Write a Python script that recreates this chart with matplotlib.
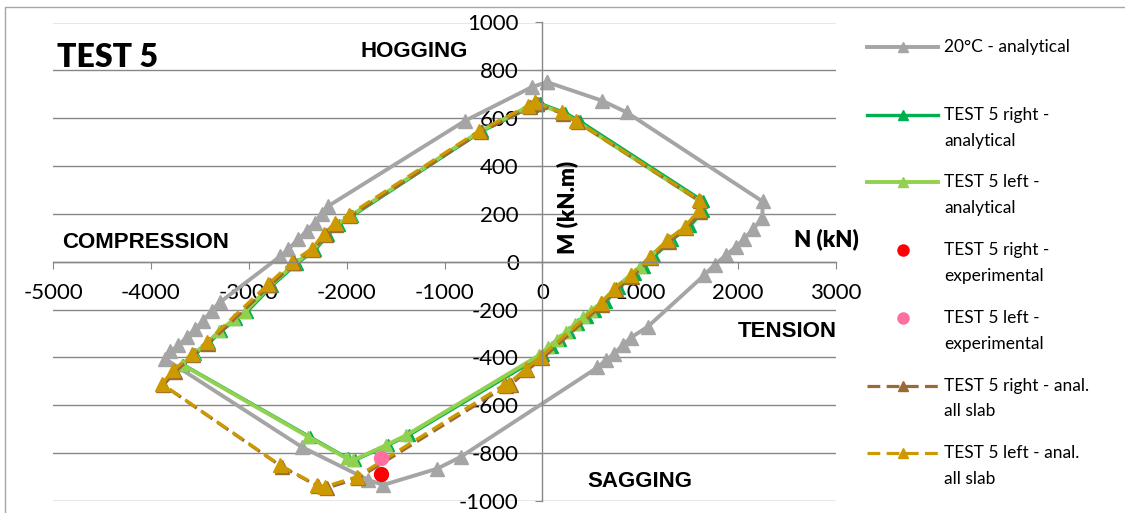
import matplotlib.pyplot as plt
from matplotlib.patches import Rectangle

plt.rcParams['font.family'] = ['Lato', 'DejaVu Sans']
plt.rcParams['axes.unicode_minus'] = False

# Datos: N (kN) y M (kN.m)
gris_N = [47, 612, 863, 2250, 2248, 2155, 2065, 1975, 1875, 1760, 1655, 1075, 904, 819,
          734, 648, 563, -836, -1075, -1626, -1779, -2459, -3854, -3803, -3718, -3633,
          -3548, -3463, -3378, -3293, -2680, -2595, -2493, -2408, -2323, -2255, -2187,
          -791, -108, 47]
gris_M = [751, 673, 624, 252, 182, 138, 97, 62, 27, -12, -56, -272, -317, -349,
          -384, -412, -442, -816, -865, -933, -912, -774, -406, -375, -350, -315,
          -281, -246, -204, -169, 22, 53, 94, 129, 164, 199, 233,
          589, 730, 751]

der_an_N = [-25, 235, 380, 1645, 1645, 1505, 1325, 1145, 1035, 945, 785, 645, 535, 455,
            365, 275, 185, 95, 5, -1365, -1580, -1915, -1985, -2375, -3670, -3545,
            -3410, -3280, -3130, -3020, -2760, -2510, -2320, -2190, -2080, -1940,
            -620, -105, -25]
der_an_M = [662, 622, 588, 253, 213, 148, 92, 24, -20, -52, -108, -168, -205, -232,
            -262, -295, -326, -358, -390, -725, -767, -829, -822, -732, -430, -385,
            -340, -290, -240, -210, -100, -8, 50, 113, 155, 192,
            545, 650, 662]

izq_an_N = [-60, 200, 345, 1610, 1610, 1470, 1290, 1110, 1000, 910, 750, 610, 500, 420,
            330, 240, 150, 60, -30, -1390, -1600, -1930, -2000, -2390, -3680, -3560,
            -3430, -3300, -3150, -3040, -2780, -2530, -2340, -2210, -2100, -1960,
            -640, -140, -60]
izq_an_M = [662, 622, 588, 253, 213, 148, 92, 24, -20, -52, -108, -168, -205, -232,
            -262, -295, -326, -358, -390, -725, -767, -829, -822, -732, -430, -385,
            -340, -290, -240, -210, -100, -8, 50, 113, 155, 192,
            545, 650, 662]

der_exp_N = [-1653]
der_exp_M = [-889]
izq_exp_N = [-1653]
izq_exp_M = [-819]

der_losa_N = [-60, 215, 360, 1615, 1615, 1470, 1292, 1112, 920, 750, 612, 0, -155, -325,
              -375, -1885, -2205, -2290, -2665, -3872, -3752, -3566, -3412, -2782, -2538,
              -2340, -2214, -2106, -1962, -632, -128, -60]
der_losa_M = [660, 618, 583, 252, 210, 140, 84, 14, -62, -118, -180, -404, -453, -515,
              -521, -905, -946, -939, -856, -516, -460, -391, -342, -99, -7,
              49, 112, 154, 190, 541, 646, 660]

izq_losa_N = [-79, 198, 342, 1601, 1601, 1457, 1277, 1097, 904, 734, 597, -17, -171, -341,
              -392, -1898, -2221, -2306, -2680, -3888, -3769, -3582, -3429, -2799, -2554,
              -2356, -2230, -2122, -1978, -647, -144, -79]
izq_losa_M = [666, 624, 589, 259, 217, 147, 90, 20, -56, -112, -174, -398, -447, -509,
              -515, -899, -940, -933, -850, -510, -454, -385, -336, -93, -1,
              55, 118, 160, 196, 547, 652, 666]

etiquetas = ["20°C - analytical", "TEST 5 right -\nanalytical", "TEST 5 left -\nanalytical",
             "TEST 5 right -\nexperimental", "TEST 5 left -\nexperimental",
             "TEST 5 right - anal.\nall slab", "TEST 5 left - anal.\nall slab"]

x_ticks = list(range(-5000, 3001, 1000))
y_ticks = list(range(-1000, 1001, 200))

# Estilos de las series
gris = '#a5a5a5'
verde_osc = '#00b050'
verde_cla = '#92d050'
rojo = '#ff0000'
rosa = '#ff6fa0'
marron = '#9a6a35'
oro = '#cc9900'
eje = '#878787'
guiones = (0, (4, 2))

series = [
    (gris_N, gris_M, dict(color=gris, lw=2.8, marker='^', ms=9.5)),
    (der_an_N, der_an_M, dict(color=verde_osc, lw=2.4, marker='^', ms=8)),
    (izq_an_N, izq_an_M, dict(color=verde_cla, lw=2.8, marker='^', ms=8)),
    (der_exp_N, der_exp_M, dict(color=rojo, lw=0, marker='o', ms=10, zorder=6)),
    (izq_exp_N, izq_exp_M, dict(color=rosa, lw=0, marker='o', ms=10, zorder=6)),
    (der_losa_N, der_losa_M, dict(color=marron, lw=2.3, ls=guiones, marker='^', ms=10.5)),
    (izq_losa_N, izq_losa_M, dict(color=oro, lw=2.3, ls=guiones, marker='^', ms=10.5)),
]

fig = plt.figure(figsize=(11.25, 5.13), dpi=100)
ax = fig.add_axes([53 / 1125, 12 / 513, 783 / 1125, 478.5 / 513])

for N, M, estilo in series:
    ax.plot(N, M, **estilo)

ax.set_xlim(-5000, 3000)
ax.set_ylim(-1000, 1000)
ax.set_xticks(x_ticks)
ax.set_yticks(y_ticks)
ax.spines['top'].set_visible(False)
ax.spines['right'].set_visible(False)
ax.spines['left'].set_position(('data', 0))
ax.spines['bottom'].set_position(('data', 0))
for s in ['left', 'bottom']:
    ax.spines[s].set_color(eje)
    ax.spines[s].set_linewidth(1.0)
ax.tick_params(axis='x', direction='out', length=5, color=eje, labelsize=16, pad=10)
ax.tick_params(axis='y', direction='out', length=5, color=eje, labelsize=16, pad=12)
ax.yaxis.grid(True, color=eje, lw=1.0)
ax.set_axisbelow(True)

# Textos dentro del gráfico
ax.text(-4963, 855, "TEST 5", fontsize=23, fontweight='heavy', va='center', ha='left')
negrita = dict(family='Liberation Sans', fontweight='bold', fontsize=16, va='center')
ax.text(-1308, 878, "HOGGING", ha='center', **negrita)
ax.text(-4909, 80, "COMPRESSION", ha='left', **negrita)
ax.text(3010, -292, "TENSION", ha='right', **negrita)
ax.text(994, -918, "SAGGING", ha='center', **negrita)
ax.text(2572, 92, "N (kN)", ha='left', va='center', fontsize=16, fontweight='heavy')
ax.text(256, 225, "M (kN.m)", ha='center', va='center', rotation=90,
        fontsize=16, fontweight='heavy')

# Marco del área del gráfico
fig.patches.append(Rectangle((5 / 1125, -0.1), 1.2, 1.1 - 7 / 513, transform=fig.transFigure,
                             fill=False, edgecolor='#a6a6a6', lw=1.0))

# Leyenda a la derecha
lax = fig.add_axes([0, 0, 1, 1])
lax.set_xlim(0, 1125)
lax.set_ylim(513, 0)
lax.axis('off')
for i, ((N, M, estilo), texto) in enumerate(zip(series, etiquetas)):
    y = 47 + i * 67.7
    e = dict(estilo)
    e.pop('zorder', None)
    e['ms'] = 7 if e['marker'] == '^' else 8
    lax.plot([867, 938], [y, y], **{k: v for k, v in e.items() if k not in ('marker', 'ms')})
    lax.plot([903], [y], color=e['color'], marker=e['marker'], ms=e['ms'], lw=0)
    for j, linea in enumerate(texto.split("\n")):
        lax.text(944, y + 26 * j, linea, fontsize=12.5, va='center', ha='left')

fig.savefig("out.png", dpi=100)
